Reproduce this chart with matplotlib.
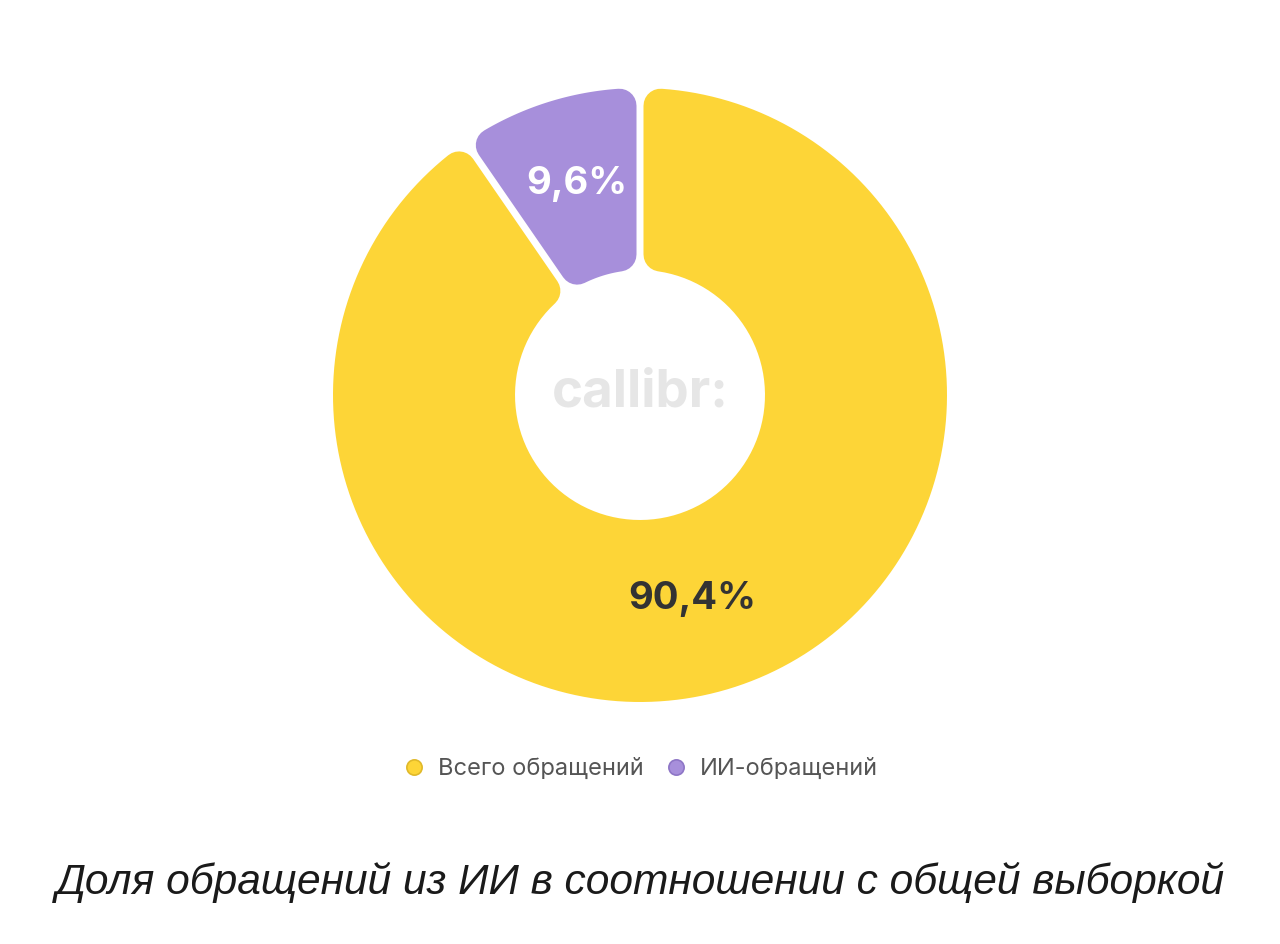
import numpy as np
import matplotlib
matplotlib.use("Agg")
import matplotlib.pyplot as plt
from matplotlib.patches import Polygon
from matplotlib.lines import Line2D

# data
labels = ["ИИ-обращений", "Всего обращений"]
values = [9.6, 90.4]
value_text = ["9,6%", "90,4%"]
colors = ["#A78FDB", "#FDD537"]
edge_colors = ["#8E76C6", "#E0B92A"]
text_colors = ["white", "#333333"]
legend_order = [1, 0]
title = "Доля обращений из ИИ в соотношении с общей выборкой"

W, H, DPI = 1280, 944, 100
cx, cy = 640, H - 395
R_out, R_in = 307, 125
corner = 17
gap = 7


def rounded_slice(t1, t2):
    # inset wedge, later fattened by a round-joined stroke
    off = gap / 2 + corner
    ro = R_out - corner
    ri = R_in + corner
    a1 = t1 + np.arcsin(off / ro)
    a2 = t2 - np.arcsin(off / ro)
    b1 = t1 + np.arcsin(off / ri)
    b2 = t2 - np.arcsin(off / ri)
    outer = np.linspace(a1, a2, 200)
    inner = np.linspace(b2, b1, 100)
    xs = np.concatenate([cx + ro * np.cos(outer), cx + ri * np.cos(inner)])
    ys = np.concatenate([cy + ro * np.sin(outer), cy + ri * np.sin(inner)])
    return np.column_stack([xs, ys])


fig = plt.figure(figsize=(W / DPI, H / DPI), dpi=DPI)
ax = fig.add_axes([0, 0, 1, 1])
ax.set_xlim(0, W)
ax.set_ylim(0, H)
ax.axis("off")

fracs = np.array(values) / sum(values)
start = np.pi / 2
lw = 2 * corner * 72 / DPI
for i, f in enumerate(fracs):
    t1 = start
    t2 = start + f * 2 * np.pi
    poly = Polygon(rounded_slice(t1, t2), closed=True, facecolor=colors[i],
                   edgecolor=colors[i], linewidth=lw, joinstyle="round")
    ax.add_patch(poly)
    start = t2

# value labels
ax.text(577, H - 184, value_text[0], color=text_colors[0], fontsize=27.5,
        fontweight="bold", family="Inter", ha="center", va="center")
ax.text(692, H - 599, value_text[1], color=text_colors[1], fontsize=27.5,
        fontweight="bold", family="Inter", ha="center", va="center")

# watermark
ax.text(640, H - 393, "callibr:", color="#E6E6E6", fontsize=38,
        fontweight="bold", family="Inter", ha="center", va="center")

handles = [Line2D([], [], marker="o", linestyle="", markersize=11,
                  markerfacecolor=colors[i], markeredgecolor=edge_colors[i],
                  markeredgewidth=1.2) for i in legend_order]
leg = fig.legend(handles, [labels[i] for i in legend_order], loc="center",
                 bbox_to_anchor=(0.5, 1 - 769 / H), ncol=2, frameon=False,
                 prop={"family": "Inter", "size": 17}, handletextpad=0.5,
                 columnspacing=0.9, handlelength=1.0)
for t in leg.get_texts():
    t.set_color("#555555")

fig.text(0.5, 1 - 882 / H, title, ha="center", va="center", fontsize=30.6,
         style="italic", family="Liberation Sans", color="#1a1a1a")

fig.savefig("out.png", dpi=DPI, facecolor="white")
